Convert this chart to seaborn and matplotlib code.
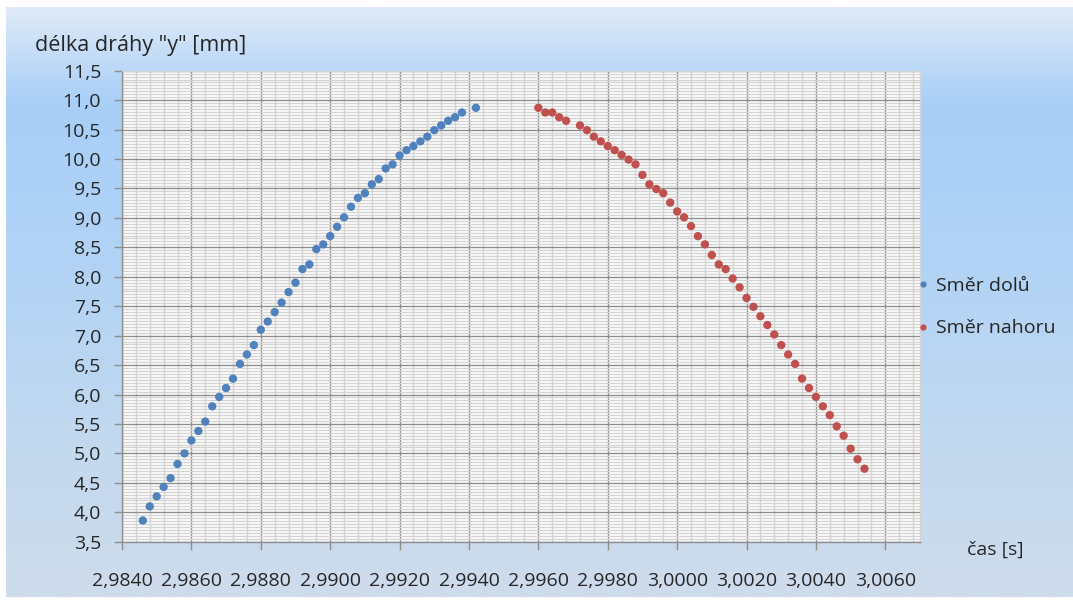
import numpy as np
import pandas as pd
import matplotlib
matplotlib.use("Agg")
import matplotlib.pyplot as plt
from matplotlib.ticker import FixedLocator, MultipleLocator, FuncFormatter
from matplotlib.colors import LinearSegmentedColormap
import seaborn as sns

# --- measured trajectory -------------------------------------------------
t_down = [2.9846, 2.9848, 2.9850, 2.9852, 2.9854, 2.9856, 2.9858, 2.9860,
          2.9862, 2.9864, 2.9866, 2.9868, 2.9870, 2.9872, 2.9874, 2.9876,
          2.9878, 2.9880, 2.9882, 2.9884, 2.9886, 2.9888, 2.9890, 2.9892,
          2.9894, 2.9896, 2.9898, 2.9900, 2.9902, 2.9904, 2.9906, 2.9908,
          2.9910, 2.9912, 2.9914, 2.9916, 2.9918, 2.9920, 2.9922, 2.9924,
          2.9926, 2.9928, 2.9930, 2.9932, 2.9934, 2.9936, 2.9938, 2.9942]
y_down = [3.86, 4.10, 4.27, 4.43, 4.58, 4.82, 5.00, 5.22,
          5.38, 5.54, 5.80, 5.96, 6.11, 6.27, 6.52, 6.68,
          6.84, 7.10, 7.24, 7.40, 7.56, 7.74, 7.90, 8.13,
          8.21, 8.47, 8.55, 8.69, 8.85, 9.01, 9.19, 9.34,
          9.42, 9.57, 9.66, 9.84, 9.91, 10.06, 10.15, 10.22,
          10.30, 10.38, 10.49, 10.57, 10.65, 10.71, 10.79, 10.87]

t_up = [2.9960, 2.9962, 2.9964, 2.9966, 2.9968, 2.9972, 2.9974, 2.9976,
        2.9978, 2.9980, 2.9982, 2.9984, 2.9986, 2.9988, 2.9990, 2.9992,
        2.9994, 2.9996, 2.9998, 3.0000, 3.0002, 3.0004, 3.0006, 3.0008,
        3.0010, 3.0012, 3.0014, 3.0016, 3.0018, 3.0020, 3.0022, 3.0024,
        3.0026, 3.0028, 3.0030, 3.0032, 3.0034, 3.0036, 3.0038, 3.0040,
        3.0042, 3.0044, 3.0046, 3.0048, 3.0050, 3.0052, 3.0054]
y_up = [10.87, 10.79, 10.79, 10.71, 10.65, 10.57, 10.49, 10.38,
        10.30, 10.22, 10.15, 10.07, 9.99, 9.91, 9.73, 9.57,
        9.49, 9.42, 9.26, 9.11, 9.01, 8.86, 8.69, 8.55,
        8.37, 8.21, 8.13, 7.97, 7.82, 7.64, 7.49, 7.33,
        7.18, 7.02, 6.84, 6.68, 6.52, 6.27, 6.11, 5.96,
        5.80, 5.65, 5.46, 5.30, 5.08, 4.90, 4.74]

series_names = ["Směr dolů", "Směr nahoru"]
series_colors = ["#4F81BD", "#C0504D"]

x_ticks = [2.984, 2.986, 2.988, 2.990, 2.992, 2.994, 2.996, 2.998,
           3.000, 3.002, 3.004, 3.006]
y_ticks = [3.5, 4.0, 4.5, 5.0, 5.5, 6.0, 6.5, 7.0, 7.5, 8.0, 8.5, 9.0,
           9.5, 10.0, 10.5, 11.0, 11.5]

y_title = 'délka dráhy "y" [mm]'
x_title = "čas [s]"

df = pd.DataFrame({
    "t": t_down + t_up,
    "y": y_down + y_up,
    "směr": [series_names[0]] * len(t_down) + [series_names[1]] * len(t_up),
})

# --- figure ---------------------------------------------------------------
sns.set_theme(style="white")
plt.rcParams["font.family"] = ["Open Sans", "DejaVu Sans"]
text_color = "#262626"

W, H = 1073, 603
fig = plt.figure(figsize=(W / 100, H / 100), dpi=100)
fig.patch.set_facecolor("white")

# gradient chart background
bg = fig.add_axes([6 / W, 6 / H, 1 - 6 / W, 1 - 13 / H], zorder=-10)
grad_cmap = LinearSegmentedColormap.from_list(
    "sky",
    [(0.0, "#dfeaf7"), (0.16, "#a9cff8"), (0.45, "#b2d3f5"),
     (0.75, "#c3d9ef"), (1.0, "#cfdcec")],
)
bg.imshow(np.linspace(0, 1, 256)[:, None], aspect="auto", cmap=grad_cmap,
          extent=[0, 1, 1, 0])
bg.set_xlim(0, 1)
bg.set_ylim(1, 0)
bg.axis("off")

ax = fig.add_axes([122 / W, 1 - 541.7 / H, (920 - 122) / W, (541.7 - 70.7) / H])
ax.set_facecolor("white")

sns.scatterplot(data=df, x="t", y="y", hue="směr", palette=series_colors,
                hue_order=series_names, s=36, linewidth=0, ax=ax, zorder=3)

ax.set_xlim(2.984, 3.007)
ax.set_ylim(3.5, 11.5)
ax.xaxis.set_major_locator(FixedLocator(x_ticks))
ax.yaxis.set_major_locator(FixedLocator(y_ticks))
ax.xaxis.set_minor_locator(MultipleLocator(0.0004))
ax.yaxis.set_minor_locator(MultipleLocator(0.05))
ax.xaxis.set_major_formatter(FuncFormatter(lambda v, p: f"{v:.4f}".replace(".", ",")))
ax.yaxis.set_major_formatter(FuncFormatter(lambda v, p: f"{v:.1f}".replace(".", ",")))

major_c = "#8e8e8e"
minor_c = "#d4d4d4"
ax.grid(which="minor", color=minor_c, linewidth=1.0, zorder=0)
ax.grid(which="major", color=major_c, linewidth=1.0, zorder=1)
ax.set_axisbelow(True)

ax.tick_params(which="major", direction="out", length=6, width=1,
               color=major_c, labelsize=14, labelcolor=text_color,
               left=True, bottom=True)
ax.tick_params(axis="y", which="major", pad=9)
ax.tick_params(axis="x", which="major", pad=16)
ax.tick_params(which="minor", length=0)

for side in ["left", "bottom"]:
    ax.spines[side].set_color(major_c)
    ax.spines[side].set_linewidth(1.0)
for side in ["top", "right"]:
    ax.spines[side].set_color(minor_c)
    ax.spines[side].set_linewidth(1.0)

ax.set_xlabel("")
ax.set_ylabel("")

fig.text(35 / W, 1 - 45 / H, y_title, fontsize=15.5, color=text_color,
         ha="left", va="center")
fig.text(967 / W, 1 - 550 / H, x_title, fontsize=14, color=text_color,
         ha="left", va="center")

leg = ax.legend(loc="center left", bbox_to_anchor=(0.996, 0.498),
                frameon=False, fontsize=14, markerscale=0.75,
                handletextpad=0.4, labelspacing=1.26, borderaxespad=0,
                borderpad=0, handlelength=0.6)
for txt in leg.get_texts():
    txt.set_color(text_color)

fig.savefig("out.png", dpi=100, facecolor="white")
